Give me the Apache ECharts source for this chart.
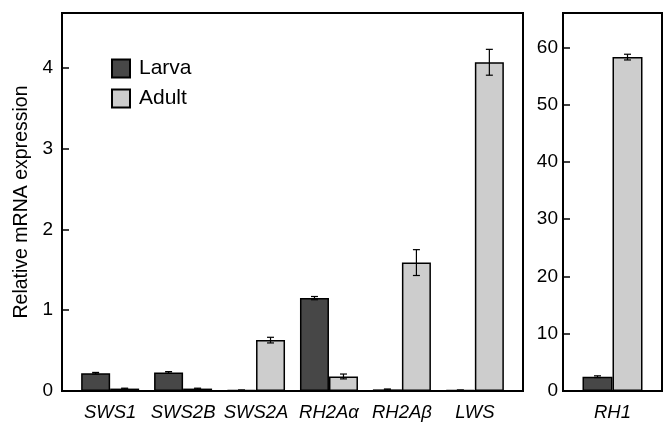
<!DOCTYPE html>
<html>
<head>
<meta charset="utf-8">
<script src="https://cdn.jsdelivr.net/npm/echarts@6/dist/echarts.min.js"></script>
<style>
  html, body { margin: 0; padding: 0; background: #fff; }
  #chart { width: 667px; height: 422px; }
</style>
</head>
<body>
<div id="chart"></div>
<script>
// Opsin genes shown in the main panel
const genes = ['SWS1', 'SWS2B', 'SWS2A', 'RH2Aα', 'RH2Aβ', 'LWS'];
const larva = [0.22, 0.23, 0.01, 1.15, 0.02, 0.01];
const larvaErr = [0.01, 0.01, 0.003, 0.02, 0.005, 0.003];
const adult = [0.03, 0.03, 0.63, 0.18, 1.59, 4.07];
const adultErr = [0.005, 0.005, 0.035, 0.03, 0.16, 0.16];

// Rod opsin, drawn on its own scale
const rhGene = ['RH1'];
const rhLarva = [2.5];
const rhLarvaErr = [0.15];
const rhAdult = [58.3];
const rhAdultErr = [0.5];

// Tick positions on the gene axis (one per gene)
const geneTicks = [0, 1, 2, 3, 4, 5];

const LARVA_COLOR = '#474747';
const ADULT_COLOR = '#cdcdcd';
const BAR_W = 29;
const FONT = '"Liberation Sans", Arial, Helvetica, sans-serif';

function errorBars(name, xAxisIndex, yAxisIndex, vals, errs, shift) {
  return {
    type: 'custom',
    name: name + ' SE',
    xAxisIndex: xAxisIndex,
    yAxisIndex: yAxisIndex,
    z: 5,
    silent: true,
    data: vals.map((v, i) => [i, v, errs[i]]),
    renderItem: function (params, api) {
      const x = api.value(0), v = api.value(1), e = api.value(2);
      const hi = api.coord([x, v + e]);
      const lo = api.coord([x, Math.max(0, v - e)]);
      const cx = hi[0] + shift;
      const cap = 3.5;
      const style = { stroke: '#000', lineWidth: 1.2 };
      return {
        type: 'group',
        children: [
          { type: 'line', shape: { x1: cx, y1: hi[1], x2: cx, y2: lo[1] }, style: style },
          { type: 'line', shape: { x1: cx - cap, y1: hi[1], x2: cx + cap, y2: hi[1] }, style: style },
          { type: 'line', shape: { x1: cx - cap, y1: lo[1], x2: cx + cap, y2: lo[1] }, style: style }
        ]
      };
    }
  };
}

const chart = echarts.init(document.getElementById('chart'), null, { renderer: 'canvas' });

const option = {
  animation: false,
  backgroundColor: '#fff',
  textStyle: { fontFamily: FONT, color: '#000' },
  legend: {
    data: ['Larva', 'Adult'],
    orient: 'vertical',
    left: 111,
    top: 58,
    padding: 0,
    itemWidth: 18,
    itemHeight: 18,
    itemGap: 9,
    icon: 'rect',
    selectedMode: false,
    textStyle: { fontFamily: FONT, fontSize: 21, color: '#000', padding: [0, 0, 0, 4] }
  },
  grid: [
    { left: 62, right: 144, top: 13, bottom: 30, show: true, borderColor: '#000', borderWidth: 2 },
    { left: 563, right: 5, top: 13, bottom: 30, show: true, borderColor: '#000', borderWidth: 2 }
  ],
  xAxis: [
    {
      type: 'value',
      gridIndex: 0,
      min: -0.66,
      max: 5.66,
      splitLine: { show: false },
      axisLine: { show: true, onZero: false, lineStyle: { color: '#000', width: 2 } },
      axisTick: { show: false },
      axisLabel: {
        customValues: geneTicks,
        formatter: v => genes[Math.round(v)],
        fontFamily: FONT,
        fontSize: 18.5,
        fontStyle: 'italic',
        color: '#000',
        margin: 12
      }
    },
    {
      type: 'category',
      gridIndex: 1,
      data: rhGene,
      axisLine: { show: true, onZero: false, lineStyle: { color: '#000', width: 2 } },
      axisTick: { show: false },
      axisLabel: { fontFamily: FONT, fontSize: 18.5, fontStyle: 'italic', color: '#000', margin: 12 }
    }
  ],
  yAxis: [
    {
      type: 'value',
      gridIndex: 0,
      min: 0,
      max: 4.68,
      interval: 1,
      name: 'Relative mRNA expression',
      nameLocation: 'middle',
      nameGap: 29,
      nameTextStyle: { fontFamily: FONT, fontSize: 19.5, color: '#000' },
      splitLine: { show: false },
      axisLine: { show: true, onZero: false, lineStyle: { color: '#000', width: 2 } },
      axisTick: { show: true, inside: true, length: 7, lineStyle: { color: '#000', width: 1.5 } },
      axisLabel: { fontFamily: FONT, fontSize: 19, color: '#000', margin: 9, showMaxLabel: false }
    },
    {
      type: 'value',
      gridIndex: 1,
      min: 0,
      max: 66,
      interval: 10,
      splitLine: { show: false },
      axisLine: { show: true, onZero: false, lineStyle: { color: '#000', width: 2 } },
      axisTick: { show: true, inside: true, length: 7, lineStyle: { color: '#000', width: 1.5 } },
      axisLabel: { fontFamily: FONT, fontSize: 19, color: '#000', margin: 5, showMaxLabel: false }
    }
  ],
  series: [
    {
      type: 'bar', name: 'Larva', xAxisIndex: 0, yAxisIndex: 0,
      data: larva.map((v, i) => [i, v]),
      barWidth: BAR_W, barGap: '0%',
      itemStyle: { color: LARVA_COLOR, borderColor: '#000', borderWidth: 1.5 }
    },
    {
      type: 'bar', name: 'Adult', xAxisIndex: 0, yAxisIndex: 0,
      data: adult.map((v, i) => [i, v]),
      barWidth: BAR_W, barGap: '0%',
      itemStyle: { color: ADULT_COLOR, borderColor: '#000', borderWidth: 1.5 }
    },
    errorBars('Larva', 0, 0, larva, larvaErr, -BAR_W / 2),
    errorBars('Adult', 0, 0, adult, adultErr, BAR_W / 2),
    {
      type: 'bar', name: 'Larva', xAxisIndex: 1, yAxisIndex: 1,
      data: rhLarva,
      barWidth: 30, barGap: '0%',
      itemStyle: { color: LARVA_COLOR, borderColor: '#000', borderWidth: 1.5 }
    },
    {
      type: 'bar', name: 'Adult', xAxisIndex: 1, yAxisIndex: 1,
      data: rhAdult,
      barWidth: 30, barGap: '0%',
      itemStyle: { color: ADULT_COLOR, borderColor: '#000', borderWidth: 1.5 }
    },
    errorBars('Larva', 1, 1, rhLarva, rhLarvaErr, -15),
    errorBars('Adult', 1, 1, rhAdult, rhAdultErr, 15)
  ]
};

chart.setOption(option);
</script>
</body>
</html>
